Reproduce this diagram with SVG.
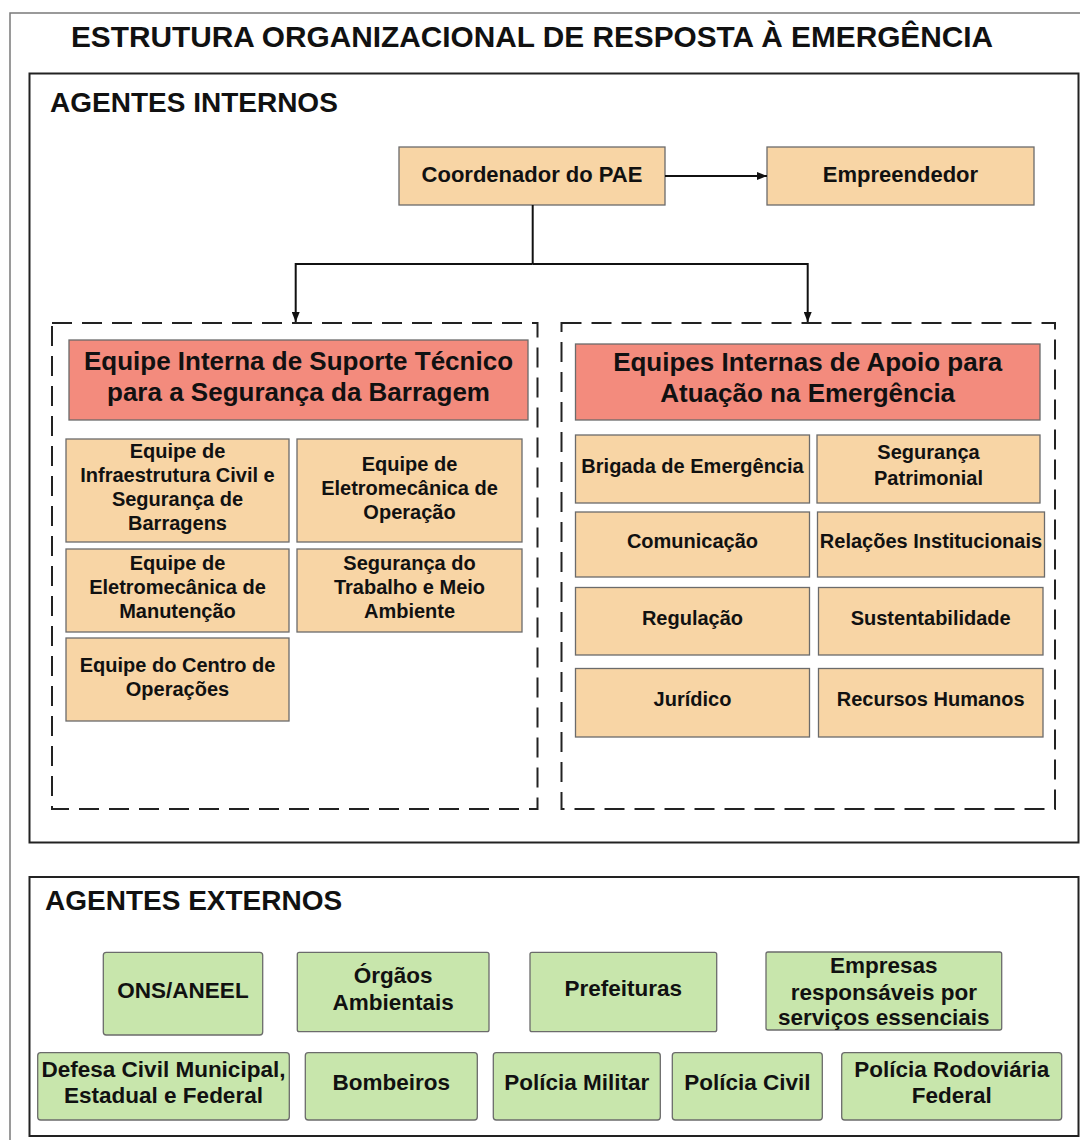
<svg xmlns="http://www.w3.org/2000/svg" width="1080" height="1140" viewBox="0 0 1080 1140">
<defs>
<style>
text{font-family:"Liberation Sans",Arial,Helvetica,sans-serif;font-weight:bold;fill:#111;text-anchor:middle}
.frame{fill:none;stroke:#7a7a7a;stroke-width:1.5}
.panel{fill:#fff;stroke:#222;stroke-width:2}
.dash{fill:none;stroke:#222;stroke-width:2;stroke-dasharray:20 10}
.org{fill:#f8d5a5;stroke:#6b6b6b;stroke-width:1.3}
.hdr{fill:#f38b7d;stroke:#6b6b6b;stroke-width:1.3}
.grn{fill:#c8e6ac;stroke:#6b6b6b;stroke-width:1.3}
.conn{fill:none;stroke:#111;stroke-width:2}
.t20{font-size:20px}
.t22{font-size:22.5px}
.t26{font-size:26px}
.sec{font-size:28px;text-anchor:start}
</style>
<marker id="arr" markerUnits="userSpaceOnUse" markerWidth="10" markerHeight="8" refX="10" refY="4" orient="auto">
<path d="M0,0 L10,4 L0,8 z" fill="#111"/>
</marker>
</defs>
<rect width="1080" height="1140" fill="#fff"/>
<rect class="frame" x="10" y="13" width="1090" height="1150"/>
<text id="title" x="532" y="47" style="font-size:29.8px">ESTRUTURA ORGANIZACIONAL DE RESPOSTA À EMERGÊNCIA</text>

<g id="agentes-internos">
<rect class="panel" x="29.5" y="73.5" width="1049" height="769"/>
<text class="sec" x="50" y="112">AGENTES INTERNOS</text>
</g>

<g id="coordenador">
<rect class="org" x="399" y="147" width="266" height="58"/>
<text x="532" y="182" style="font-size:22px">Coordenador do PAE</text>
</g>
<g id="empreendedor">
<rect class="org" x="767" y="147" width="267" height="58"/>
<text x="900.5" y="182" style="font-size:22px">Empreendedor</text>
</g>

<g id="suporte-tecnico">
<rect class="dash" x="52" y="323" width="485.5" height="486"/>
<rect class="hdr" x="69" y="340" width="459" height="80"/>
<text class="t26" x="298.5" y="370">Equipe Interna de Suporte Técnico</text>
<text class="t26" x="298.5" y="401">para a Segurança da Barragem</text>
</g>
<g id="infraestrutura-civil">
<rect class="org" x="66" y="439" width="223" height="103"/>
<text class="t20" x="177.5" y="458">Equipe de</text>
<text class="t20" x="177.5" y="482">Infraestrutura Civil e</text>
<text class="t20" x="177.5" y="506">Segurança de</text>
<text class="t20" x="177.5" y="530">Barragens</text>
</g>
<g id="eletromecanica-operacao">
<rect class="org" x="297" y="439" width="225" height="103"/>
<text class="t20" x="409.5" y="471">Equipe de</text>
<text class="t20" x="409.5" y="495">Eletromecânica de</text>
<text class="t20" x="409.5" y="519">Operação</text>
</g>
<g id="eletromecanica-manutencao">
<rect class="org" x="66" y="549" width="223" height="83"/>
<text class="t20" x="177.5" y="570">Equipe de</text>
<text class="t20" x="177.5" y="594">Eletromecânica de</text>
<text class="t20" x="177.5" y="618">Manutenção</text>
</g>
<g id="seguranca-trabalho">
<rect class="org" x="297" y="549" width="225" height="83"/>
<text class="t20" x="409.5" y="570">Segurança do</text>
<text class="t20" x="409.5" y="594">Trabalho e Meio</text>
<text class="t20" x="409.5" y="618">Ambiente</text>
</g>
<g id="centro-operacoes">
<rect class="org" x="66" y="638" width="223" height="83"/>
<text class="t20" x="177.5" y="672">Equipe do Centro de</text>
<text class="t20" x="177.5" y="696">Operações</text>
</g>

<g id="apoio-emergencia">
<rect class="dash" x="561.5" y="323" width="493.5" height="486"/>
<rect class="hdr" x="575.5" y="344" width="464.5" height="76"/>
<text class="t26" x="807.7" y="371">Equipes Internas de Apoio para</text>
<text class="t26" x="807.7" y="402">Atuação na Emergência</text>
</g>
<g id="brigada">
<rect class="org" x="575.5" y="435" width="234" height="68"/>
<text class="t20" x="692.5" y="473">Brigada de Emergência</text>
</g>
<g id="seguranca-patrimonial">
<rect class="org" x="817" y="435" width="223" height="68"/>
<text class="t20" x="928.5" y="459">Segurança</text>
<text class="t20" x="928.5" y="485">Patrimonial</text>
</g>
<g id="comunicacao">
<rect class="org" x="575.5" y="512" width="234" height="65"/>
<text class="t20" x="692.5" y="548">Comunicação</text>
</g>
<g id="relacoes-institucionais">
<rect class="org" x="817.5" y="512" width="227" height="65"/>
<text class="t20" x="931" y="548">Relações Institucionais</text>
</g>
<g id="regulacao">
<rect class="org" x="575.5" y="587.5" width="234" height="67.5"/>
<text class="t20" x="692.5" y="625">Regulação</text>
</g>
<g id="sustentabilidade">
<rect class="org" x="818.5" y="587.5" width="224.5" height="67.5"/>
<text class="t20" x="930.7" y="625">Sustentabilidade</text>
</g>
<g id="juridico">
<rect class="org" x="575.5" y="668.5" width="234" height="68.5"/>
<text class="t20" x="692.5" y="706">Jurídico</text>
</g>
<g id="recursos-humanos">
<rect class="org" x="818.5" y="668.5" width="224.5" height="68.5"/>
<text class="t20" x="930.7" y="706">Recursos Humanos</text>
</g>

<g id="connectors">
<line class="conn" x1="665" y1="176" x2="767" y2="176" marker-end="url(#arr)"/>
<polyline class="conn" points="532.7,205 532.7,264"/>
<polyline class="conn" points="532.7,264 295.7,264 295.7,322" marker-end="url(#arr)"/>
<polyline class="conn" points="532.7,264 807.7,264 807.7,322" marker-end="url(#arr)"/>
</g>

<g id="agentes-externos">
<rect class="panel" x="29.5" y="877" width="1049" height="259"/>
<text class="sec" x="45" y="910">AGENTES EXTERNOS</text>
</g>
<g id="ons-aneel">
<rect class="grn" x="103.3" y="952.3" width="159.4" height="82.7" rx="3"/>
<text class="t22" x="183" y="998">ONS/ANEEL</text>
</g>
<g id="orgaos-ambientais">
<rect class="grn" x="297.3" y="952.3" width="191.7" height="79.4" rx="2"/>
<text class="t22" x="393.2" y="983">Órgãos</text>
<text class="t22" x="393.2" y="1010">Ambientais</text>
</g>
<g id="prefeituras">
<rect class="grn" x="530" y="952.3" width="186.7" height="79.4" rx="2"/>
<text class="t22" x="623.3" y="996">Prefeituras</text>
</g>
<g id="empresas">
<rect class="grn" x="766" y="952" width="235.7" height="78" rx="2"/>
<text class="t22" x="883.8" y="973">Empresas</text>
<text class="t22" x="883.8" y="999.5">responsáveis por</text>
<text class="t22" x="883.8" y="1025">serviços essenciais</text>
</g>
<g id="defesa-civil">
<rect class="grn" x="37.7" y="1052.7" width="251.6" height="67.3" rx="3"/>
<text class="t22" x="163.5" y="1077">Defesa Civil Municipal,</text>
<text class="t22" x="163.5" y="1103">Estadual e Federal</text>
</g>
<g id="bombeiros">
<rect class="grn" x="305.3" y="1052.7" width="172" height="67.3" rx="3"/>
<text class="t22" x="391.3" y="1090">Bombeiros</text>
</g>
<g id="policia-militar">
<rect class="grn" x="493.3" y="1052.7" width="167" height="67.3" rx="3"/>
<text class="t22" x="576.8" y="1090">Polícia Militar</text>
</g>
<g id="policia-civil">
<rect class="grn" x="672.3" y="1052.7" width="150" height="67.3" rx="3"/>
<text class="t22" x="747.3" y="1090">Polícia Civil</text>
</g>
<g id="policia-rodoviaria">
<rect class="grn" x="841.7" y="1052.7" width="220" height="67.3" rx="3"/>
<text class="t22" x="951.7" y="1077">Polícia Rodoviária</text>
<text class="t22" x="951.7" y="1103">Federal</text>
</g>
</svg>
